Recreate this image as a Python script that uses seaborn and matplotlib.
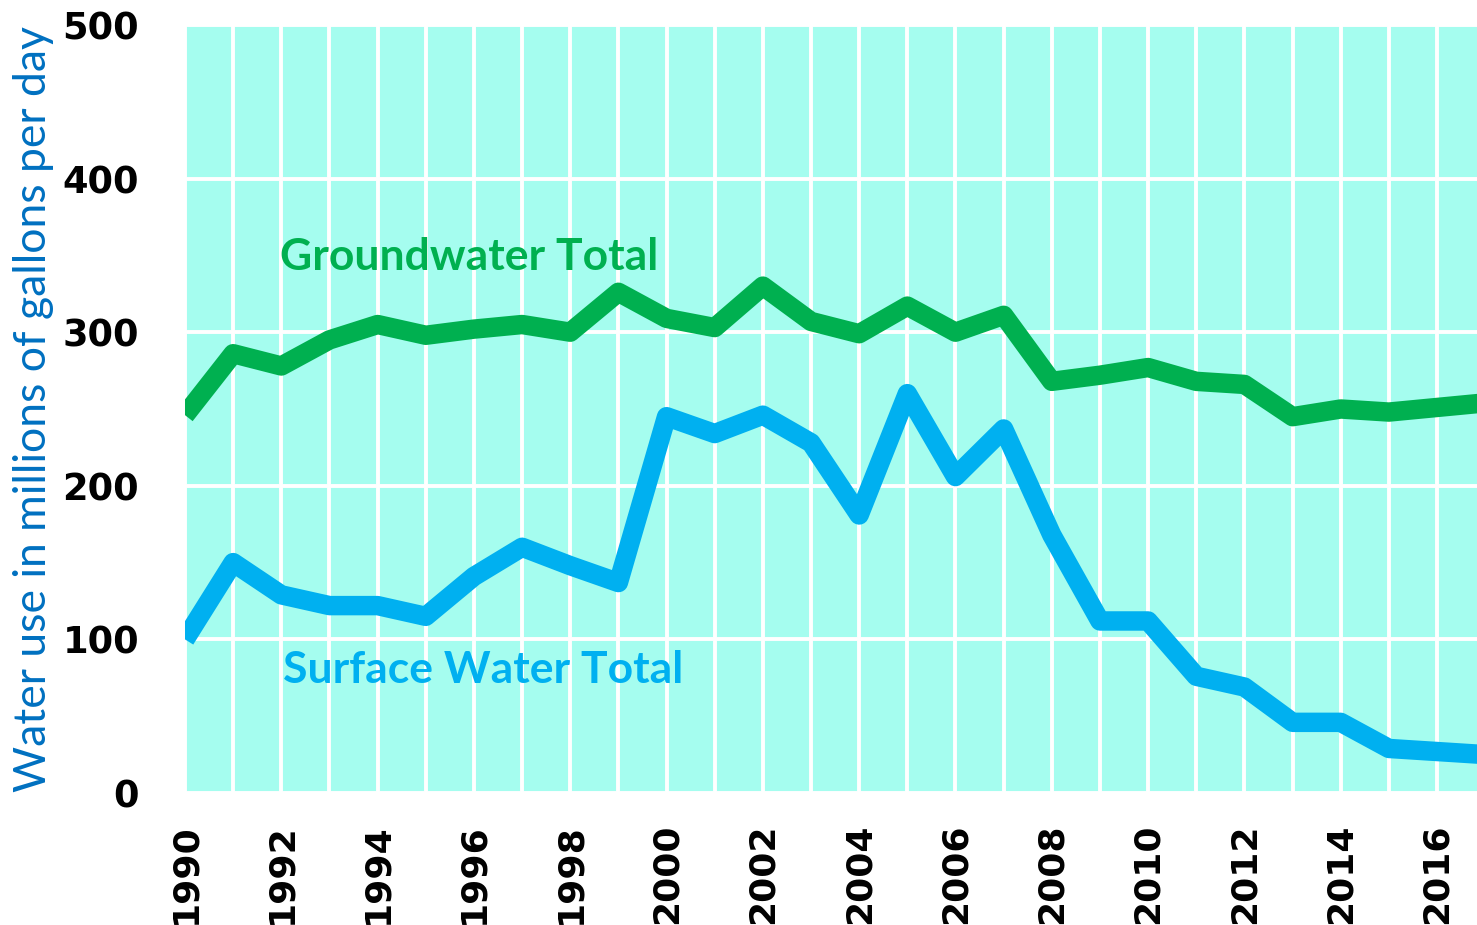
import matplotlib
matplotlib.use("Agg")
import matplotlib.pyplot as plt
import seaborn as sns
import pandas as pd
from matplotlib.ticker import MultipleLocator

# yearly values (millions of gallons per day)
years = list(range(1990, 2018))
groundwater = [246, 286, 278, 295, 305, 298, 302, 305, 300, 326,
               309, 303, 330, 307, 299, 317, 300, 311, 268, 272,
               277, 268, 266, 245, 250, 248, 251, 254]
surface = [100, 150, 129, 122, 122, 115, 141, 160, 148, 137,
           245, 234, 246, 228, 181, 260, 206, 237, 168, 112,
           112, 76, 69, 46, 46, 29, 27, 25]

y_ticks = [0, 100, 200, 300, 400, 500]
x_ticks = list(range(1990, 2017, 2))

df = pd.DataFrame({"year": years, "Groundwater Total": groundwater,
                   "Surface Water Total": surface})

sns.set_style("whitegrid", {"axes.facecolor": "#A5FDEF", "grid.color": "white",
                            "axes.edgecolor": "#A5FDEF"})
plt.rcParams["font.family"] = ["DejaVu Sans"]

fig = plt.figure(figsize=(14.77, 9.25), dpi=100)
ax = fig.add_axes([185 / 1477, 132 / 925, 1292 / 1477, 768 / 925])

green = "#00B050"
blue = "#00B0F0"

sns.lineplot(data=df, x="year", y="Groundwater Total", ax=ax, color=green,
             linewidth=14, solid_joinstyle="round", solid_capstyle="butt")
sns.lineplot(data=df, x="year", y="Surface Water Total", ax=ax, color=blue,
             linewidth=14, solid_joinstyle="round", solid_capstyle="butt")

ax.set_xlim(1990, 2016.83)
ax.set_ylim(0, 500)
ax.set_yticks(y_ticks)
ax.set_xticks(x_ticks)
ax.xaxis.set_minor_locator(MultipleLocator(1))
ax.grid(True, which="both", color="white", linewidth=2.8)
ax.set_axisbelow(True)
for s in ax.spines.values():
    s.set_visible(False)

ax.tick_params(axis="both", which="both", length=0, labelcolor="black")
ax.tick_params(axis="y", pad=33, labelsize=26.5)
ax.tick_params(axis="x", pad=22, labelsize=26, labelrotation=90)
for lab in ax.get_xticklabels() + ax.get_yticklabels():
    lab.set_fontweight("bold")

ax.set_xlabel("")
ax.set_ylabel("Water use in millions of gallons per day", color="#0070C0",
              fontsize=32, family=["Lato", "DejaVu Sans"], labelpad=6)

ax.text(1991.97, 349, "Groundwater Total", color=green, fontsize=32,
        fontweight="bold", family=["Lato", "DejaVu Sans"], va="center", ha="left")
ax.text(1992.03, 80, "Surface Water Total", color=blue, fontsize=32,
        fontweight="bold", family=["Lato", "DejaVu Sans"], va="center", ha="left")

fig.savefig("out.png", dpi=100)
